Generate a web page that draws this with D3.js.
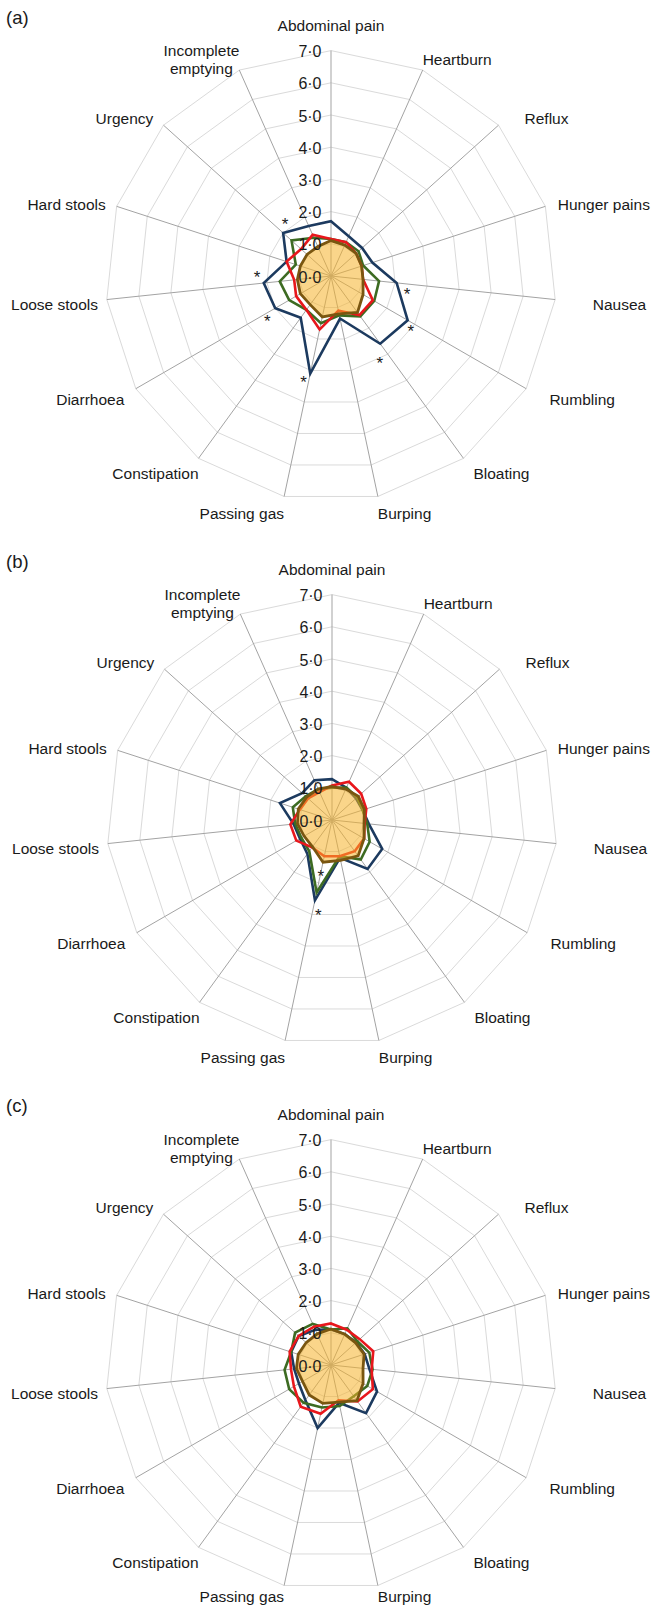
<!DOCTYPE html>
<html><head><meta charset="utf-8">
<script src="https://cdn.jsdelivr.net/npm/d3@7"></script>
<style>
body{margin:0;background:#fff}
svg{display:block}
text{font-family:"Liberation Sans",Arial,Helvetica,sans-serif;fill:#1a1a1a}
</style>
</head><body>
<svg id="chart" width="651" height="1607"></svg>
<script>
// ---------- data ----------
const categories = ["Abdominal pain","Heartburn","Reflux","Hunger pains","Nausea","Rumbling","Bloating","Burping","Passing gas","Constipation","Diarrhoea","Loose stools","Hard stools","Urgency","Incomplete emptying"];
const tickValues = [0,1,2,3,4,5,6,7];
const panelLabels = ["(a)","(b)","(c)"];

// panel (a)
const aYellow = [1.10,1.05,1.05,1.00,1.00,1.15,1.40,1.20,1.30,1.10,1.10,1.05,1.00,1.00,1.00];
const aNavy   = [1.70,1.35,1.30,1.35,2.05,2.75,2.60,1.35,3.10,1.60,2.00,2.10,1.45,2.00,1.70];
const aGreen  = [1.15,1.15,1.15,1.05,1.50,1.55,1.55,1.25,1.50,1.30,1.50,1.60,1.15,1.65,1.30];
const aRed    = [1.15,1.15,1.05,1.00,1.00,1.50,1.50,1.10,1.70,1.30,1.25,1.15,1.45,1.25,1.40];
const aStars  = [[320.6,2.25],[272,2.3],[236.8,2.36],[195,3.3],[149.7,3.0],[122.9,2.95],[100.4,2.4]]; // [angle deg, value]

// panel (b)
const bYellow = [1.04,1.05,1.10,1.06,1.00,1.15,1.38,1.28,1.34,1.03,1.00,1.08,1.10,1.06,1.05];
const bNavy   = [1.27,1.10,1.00,1.00,1.15,1.80,1.88,1.20,2.55,1.30,1.15,1.20,1.70,1.25,1.35];
const bGreen  = [1.00,1.10,1.05,1.00,1.10,1.35,1.52,1.15,2.30,1.20,1.10,1.15,1.28,1.10,1.05];
const bRed    = [1.07,1.30,1.22,1.12,1.02,1.15,1.20,1.15,1.15,1.05,1.28,1.30,1.05,1.00,0.95];
const bStars  = [[192.3,1.65],[188.6,2.86]];

// panel (c)
const cYellow = [1.12,1.05,1.03,1.08,1.00,1.15,1.37,1.18,1.22,1.15,1.02,1.08,1.07,1.04,1.06];
const cNavy   = [1.10,1.05,1.05,1.10,1.20,1.65,1.85,1.20,2.00,1.35,1.15,1.15,1.30,1.35,1.20];
const cGreen  = [1.10,1.25,1.10,1.25,1.30,1.30,1.20,1.30,1.35,1.45,1.50,1.45,1.30,1.50,1.40];
const cRed    = [1.29,1.20,1.20,1.38,1.27,1.50,1.40,1.12,1.55,1.60,1.33,1.25,1.35,1.35,1.30];
const cStars  = [];

// ---------- layout ----------
const W = 651, H = 1607;
const panels = [
  {label: panelLabels[0], yellow: aYellow, navy: aNavy, green: aGreen, red: aRed, stars: aStars, cx: 331, cy: 276, top: 0},
  {label: panelLabels[1], yellow: bYellow, navy: bNavy, green: bGreen, red: bRed, stars: bStars, cx: 332, cy: 820, top: 544},
  {label: panelLabels[2], yellow: cYellow, navy: cNavy, green: cGreen, red: cRed, stars: cStars, cx: 331, cy: 1365, top: 1088}
];
const R = 225.4;
const colors = {navy: "#1c3a5f", green: "#3d6b22", red: "#e8171c", fill: "#f6b229", outline: "#7a5610", ring: "#dadada", spoke: "#a3a3a3"};

const svg = d3.select("#chart");
const n = categories.length;
const angle = d3.scaleLinear().domain([0, n]).range([0, 2 * Math.PI]);
const r = d3.scaleLinear().domain([0, 7]).range([0, R]);
const fmt = v => d3.format(".1f")(v).replace(".", "\u00B7");

const radial = d3.lineRadial()
  .angle((d, i) => angle(i))
  .radius(d => r(d))
  .curve(d3.curveLinearClosed);

panels.forEach(p => {
  svg.append("text")
    .attr("x", 6).attr("y", p.top + 24)
    .style("font-size", "18.5px")
    .text(p.label);

  const g = svg.append("g").attr("transform", `translate(${p.cx},${p.cy})`);

  // rings
  g.selectAll("path.ring").data(tickValues.slice(1)).enter().append("path")
    .attr("class", "ring")
    .attr("d", v => radial(categories.map(() => v)))
    .attr("fill", "none").attr("stroke", colors.ring).attr("stroke-width", 1);

  // spokes
  g.selectAll("line.spoke").data(categories).enter().append("line")
    .attr("class", "spoke")
    .attr("x1", 0).attr("y1", 0)
    .attr("x2", (d, i) => r(7) * Math.sin(angle(i)))
    .attr("y2", (d, i) => -r(7) * Math.cos(angle(i)))
    .attr("stroke", colors.spoke).attr("stroke-width", 1);

  // series lines
  [["navy", p.navy], ["green", p.green], ["red", p.red]].forEach(([c, vals]) => {
    g.append("path").attr("d", radial(vals))
      .attr("fill", "none").attr("stroke", colors[c]).attr("stroke-width", 2.6)
      .attr("stroke-linejoin", "miter");
  });
  // filled series
  g.append("path").attr("d", radial(p.yellow))
    .attr("fill", colors.fill).attr("fill-opacity", 0.55)
    .attr("stroke", colors.outline).attr("stroke-width", 2.8);

  // tick labels
  g.selectAll("text.tick").data(tickValues).enter().append("text")
    .attr("class", "tick")
    .attr("x", -9.5).attr("y", v => -r(v) + 1)
    .attr("text-anchor", "end").attr("dominant-baseline", "central")
    .style("font-size", "16px")
    .text(fmt);

  // category labels
  categories.forEach((name, i) => {
    const a = angle(i), s = Math.sin(a), c = Math.cos(a);
    const lines = name.length > 15 ? name.split(" ") : [name];
    const t = g.append("text").attr("text-anchor", "middle").style("font-size", "15.5px");
    const lh = 18.5;
    lines.forEach((ln, k) => {
      t.append("tspan").attr("x", 0).attr("y", (k - (lines.length - 1) / 2) * lh)
        .attr("dominant-baseline", "central").text(ln);
    });
    const w = t.node().getBBox().width;
    let lx = 0;
    if (Math.abs(s) > 0.01) {
      const rx = s > 0 ? 290 : 278;
      lx = Math.sign(s) * Math.max(rx * Math.abs(s), R * Math.abs(s) + w / 2);
    }
    // keep labels inside the canvas
    lx = Math.min(lx, W - 1 - w / 2 - p.cx);
    lx = Math.max(lx, 1 + w / 2 - p.cx);
    let ly = i === 0 ? -251 : -240 * c + 3;
    ly = Math.min(ly, H - 11 - p.cy);
    t.attr("transform", `translate(${lx},${ly})`);
  });

  // significance stars
  g.selectAll("text.star").data(p.stars).enter().append("text")
    .attr("class", "star")
    .attr("x", d => r(d[1]) * Math.sin(d[0] * Math.PI / 180))
    .attr("y", d => -r(d[1]) * Math.cos(d[0] * Math.PI / 180))
    .attr("dy", "0.57em")
    .attr("text-anchor", "middle")
    .style("font-size", "17px")
    .text("*");
});
</script>
</body></html>
